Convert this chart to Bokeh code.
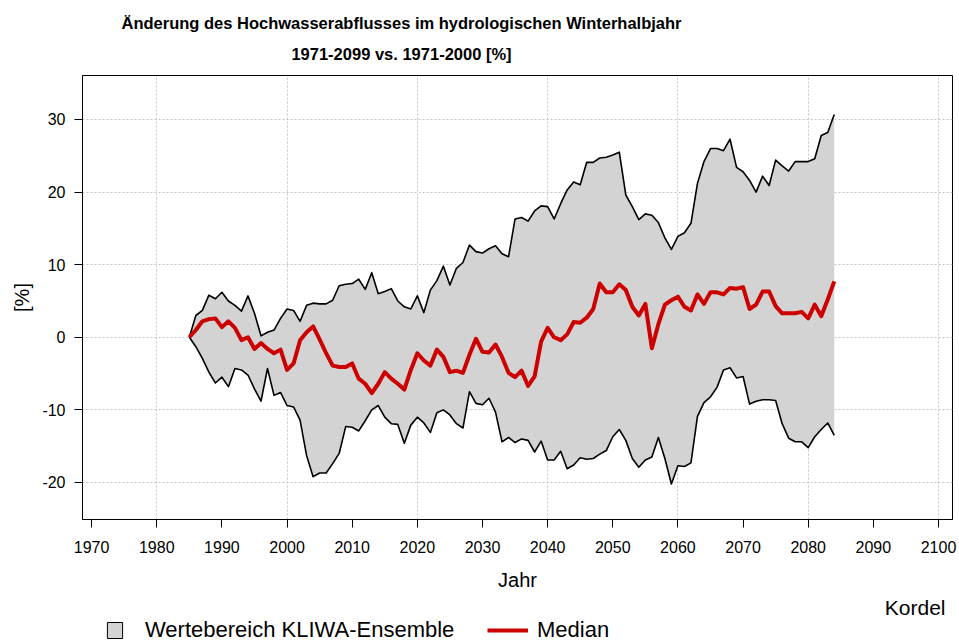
from bokeh.plotting import figure
from bokeh.layouts import column
from bokeh.models import Range1d, FixedTicker, Label, Legend, LegendItem
from bokeh.embed import file_html
from bokeh.resources import INLINE

# ---------------- data ----------------
years = list(range(1985, 2085))

upper = [
    0.0, 3.0, 3.7, 5.8, 5.3, 6.2, 5.0, 4.4, 3.6, 5.7,
    3.3, 0.2, 0.7, 1.0, 2.6, 3.9, 3.7, 2.2, 4.4, 4.7,
    4.6, 4.6, 5.1, 7.1, 7.3, 7.4, 8.0, 6.6, 8.9, 6.0,
    6.3, 6.7, 5.0, 4.2, 3.9, 5.7, 3.4, 6.5, 7.8, 9.8,
    7.2, 9.5, 10.3, 12.7, 11.8, 11.6, 12.2, 12.6, 11.5, 11.1,
    16.3, 16.5, 16.0, 17.4, 18.1, 18.0, 16.3, 18.4, 20.3, 21.4,
    21.0, 24.1, 24.1, 24.7, 24.8, 25.1, 25.5, 19.6, 18.0, 16.2,
    17.0, 16.8, 15.8, 13.7, 12.1, 13.9, 14.4, 15.7, 21.2, 24.2,
    26.0, 26.0, 25.7, 27.3, 23.4, 22.8, 21.6, 20.0, 22.2, 20.9,
    24.4, 23.6, 22.9, 24.2, 24.2, 24.2, 24.6, 27.8, 28.2, 30.7,
]

lower = [
    0.0, -1.3, -2.9, -4.8, -6.3, -5.5, -6.8, -4.3, -4.5, -5.2,
    -7.1, -8.8, -4.3, -8.0, -7.6, -9.4, -9.6, -11.4, -16.3, -19.2,
    -18.7, -18.7, -17.4, -16.0, -12.3, -12.4, -12.9, -11.5, -10.0, -9.4,
    -11.0, -11.9, -12.0, -14.6, -12.1, -11.0, -11.8, -13.1, -10.4, -10.0,
    -10.7, -11.9, -12.5, -7.5, -9.1, -9.3, -8.4, -10.3, -14.4, -13.8,
    -14.5, -14.0, -14.2, -15.8, -14.3, -16.9, -16.9, -15.7, -18.1, -17.6,
    -16.6, -16.8, -16.7, -16.1, -15.6, -13.7, -12.7, -14.2, -16.7, -17.9,
    -16.9, -16.5, -13.8, -16.7, -20.2, -17.7, -17.8, -17.3, -10.9, -9.0,
    -8.2, -6.9, -4.5, -4.2, -5.6, -5.4, -9.2, -8.8, -8.6, -8.6,
    -8.7, -11.9, -13.9, -14.4, -14.4, -15.2, -13.7, -12.7, -11.8, -13.5,
]

median = [
    0.0, 1.0, 2.2, 2.5, 2.6, 1.4, 2.2, 1.3, -0.4, 0.0,
    -1.6, -0.8, -1.6, -2.2, -1.7, -4.5, -3.6, -0.4, 0.7, 1.5,
    -0.3, -2.2, -3.9, -4.1, -4.1, -3.6, -5.7, -6.4, -7.7, -6.4,
    -4.8, -5.7, -6.4, -7.2, -4.5, -2.2, -3.2, -3.9, -1.7, -2.7,
    -4.8, -4.6, -4.9, -2.4, -0.2, -2.0, -2.1, -1.0, -2.7, -4.9,
    -5.5, -4.6, -6.7, -5.4, -0.6, 1.3, 0.0, -0.4, 0.4, 2.1,
    2.0, 2.7, 3.9, 7.4, 6.2, 6.2, 7.3, 6.5, 4.2, 3.0,
    4.6, -1.5, 1.8, 4.5, 5.1, 5.6, 4.2, 3.7, 5.9, 4.6,
    6.2, 6.2, 5.9, 6.8, 6.7, 6.9, 3.9, 4.5, 6.3, 6.3,
    4.3, 3.3, 3.3, 3.3, 3.5, 2.6, 4.5, 2.9, 5.2, 7.7,
]

x_ticks = [1970, 1980, 1990, 2000, 2010, 2020, 2030, 2040, 2050, 2060, 2070, 2080, 2090, 2100]
x_grid = [1980, 2000, 2020, 2040, 2060, 2080, 2100]
y_ticks = [-20, -10, 0, 10, 20, 30]
y_tick_labels = {-20: "-20", -10: "-10", 0: "0", 10: "10", 20: "20", 30: "30"}

title_1 = "Änderung des Hochwasserabflusses im hydrologischen Winterhalbjahr"
title_2 = "1971-2099 vs. 1971-2000 [%]"
x_label = "Jahr"
y_label = "[%]"
station = "Kordel"
legend_band = "Wertebereich KLIWA-Ensemble"
legend_median = "Median"

FONT = "Liberation Sans"
W = 959
FRAME_W = 870
LEFT = 82
RIGHT = W - LEFT - FRAME_W


def blank(height):
    f = figure(width=W, height=height, frame_width=FRAME_W, frame_height=height,
               output_backend="svg", toolbar_location=None,
               x_axis_type=None, y_axis_type=None, title=None,
               min_border_left=LEFT, min_border_right=RIGHT,
               min_border_top=0, min_border_bottom=0,
               x_range=Range1d(0, 1), y_range=Range1d(0, 1))
    f.outline_line_color = None
    f.background_fill_color = "white"
    f.border_fill_color = "white"
    return f


# ---------------- title strip ----------------
top = blank(74)
for txt, yy in ((title_1, 52), (title_2, 21)):
    top.add_layout(Label(x=319, y=yy, x_units="screen", y_units="screen", text=txt,
                         text_align="center", text_baseline="middle",
                         text_font=FONT, text_font_size="16.5px", text_font_style="bold",
                         text_color="black"))

# ---------------- main plot ----------------
p = figure(
    frame_width=FRAME_W, frame_height=444, title=None,
    output_backend="svg", toolbar_location=None,
    x_range=Range1d(1968.6, 2102.15), y_range=Range1d(-25.1, 36.06),
    min_border_left=LEFT, min_border_right=RIGHT, min_border_top=1, min_border_bottom=71,
)
p.background_fill_color = "white"
p.border_fill_color = "white"
p.outline_line_color = "black"
p.outline_line_width = 1

p.xaxis.ticker = FixedTicker(ticks=x_ticks)
p.yaxis.ticker = FixedTicker(ticks=y_ticks)
p.yaxis.major_label_overrides = y_tick_labels
for ax in (p.xaxis[0], p.yaxis[0]):
    ax.major_tick_in = 0
    ax.major_tick_out = 8
    ax.minor_tick_in = 0
    ax.minor_tick_out = 0
    ax.axis_line_color = "black"
    ax.major_tick_line_color = "black"
    ax.major_label_text_font = FONT
    ax.major_label_text_font_size = "16px"
    ax.major_label_text_color = "black"
    ax.axis_label_text_font = FONT
    ax.axis_label_text_font_size = "20px"
    ax.axis_label_text_font_style = "normal"
    ax.axis_label_text_color = "black"
p.xaxis.axis_label = x_label
p.yaxis.axis_label = y_label
p.xaxis.major_label_standoff = 13
p.xaxis.axis_label_standoff = 13
p.yaxis.major_label_standoff = 9
p.yaxis.axis_label_standoff = 6
p.yaxis.major_label_orientation = "horizontal"

p.xgrid.ticker = FixedTicker(ticks=x_grid)
p.xgrid.grid_line_color = "#c4c4c4"
p.xgrid.grid_line_dash = "2 2"
p.ygrid.grid_line_color = "#c4c4c4"
p.ygrid.grid_line_dash = "2 2"

p.varea(x=years, y1=lower, y2=upper, fill_color="#d3d3d3")
p.line(x=years, y=upper, line_color="black", line_width=1.6, line_join="round")
p.line(x=years, y=lower, line_color="black", line_width=1.6, line_join="round")
p.line(x=years, y=median, line_color="#cc0000", line_width=4, line_join="round")

# ---------------- bottom strip: station + legend ----------------
bot = blank(54)
bot.add_layout(Label(x=863, y=40.5, x_units="screen", y_units="screen", text=station,
                     text_align="right", text_baseline="middle",
                     text_font=FONT, text_font_size="21px", text_color="black"))

# legend swatches (data lie outside this strip's range, so only the legend shows them)
box_r = bot.quad(left=[years[0]], right=[years[-1]], bottom=[min(lower)], top=[max(upper)],
                 fill_color="#d3d3d3", line_color="black", line_width=1)
med_r = bot.line(x=years, y=median, line_color="#cc0000", line_width=4)

leg1 = Legend(items=[LegendItem(label=legend_band, renderers=[box_r])], location=(23, 4))
leg2 = Legend(items=[LegendItem(label=legend_median, renderers=[med_r])], location=(405, 4))
for lg, gw, st in ((leg1, 19, 21), (leg2, 41, 9)):
    lg.orientation = "horizontal"
    lg.glyph_width = gw
    lg.glyph_height = 20
    lg.label_height = 20
    lg.label_standoff = st
    lg.label_text_font = FONT
    lg.label_text_font_size = "22px"
    lg.label_text_color = "black"
    lg.padding = 0
    lg.margin = 0
    lg.spacing = 0
    lg.border_line_color = None
    lg.background_fill_alpha = 0
    bot.add_layout(lg, "center")

layout = column(top, p, bot, spacing=0)
open("out.html", "w").write(file_html(layout, INLINE))
